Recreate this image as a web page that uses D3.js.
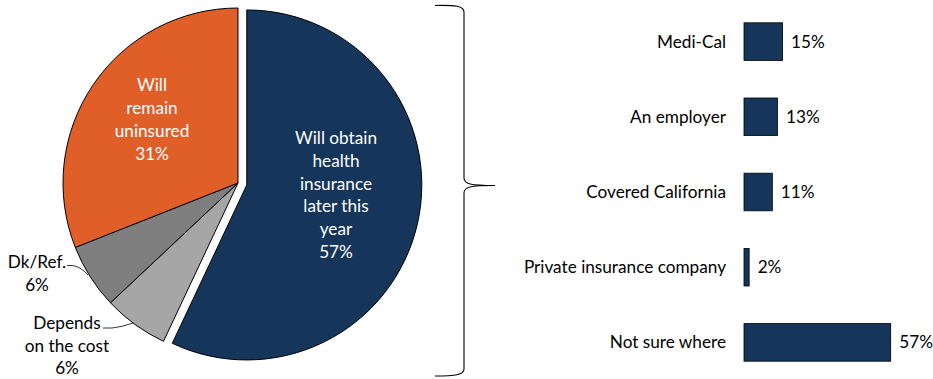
<!DOCTYPE html>
<html>
<head>
<meta charset="utf-8">
<script src="https://cdn.jsdelivr.net/npm/d3@7"></script>
<style>
  html, body { margin: 0; padding: 0; background: #fff; }
  svg { display: block; }
  text { font-family: Lato, "Open Sans", sans-serif; }
</style>
</head>
<body>
<svg id="chart" width="933" height="379"></svg>
<script>
// Intentions of the uninsured for the rest of the year
const pieLabels = ["Will obtain health insurance later this year", "Depends on the cost", "Dk/Ref.", "Will remain uninsured"];
const pieValues = [57, 6, 6, 31];
const pieColors = ["#15355b", "#a6a6a6", "#7f7f7f", "#e05e27"];

// Where those planning to get coverage expect to get it
const barCategories = ["Medi-Cal", "An employer", "Covered California", "Private insurance company", "Not sure where"];
const barValues = [15, 13, 11, 2, 57];

const svg = d3.select("#chart");
const FS = 17.2;

// ---- Pie ----
const cx = 238, cy = 183, R = 175;
const pie = d3.pie().sort(null).value(d => d)(pieValues);
const arc = d3.arc().innerRadius(0).outerRadius(R);
const explode = 9;

const pg = svg.append("g").attr("transform", `translate(${cx},${cy})`);
pg.selectAll("path.slice")
  .data(pie)
  .join("path")
  .attr("class", "slice")
  .attr("d", arc)
  .attr("fill", (d, i) => pieColors[i])
  .attr("stroke", "#000")
  .attr("stroke-width", 1)
  .attr("stroke-linejoin", "round")
  .attr("transform", (d, i) => {
    if (i !== 0) return null;
    const a = (d.startAngle + d.endAngle) / 2;
    return `translate(${explode * Math.sin(a)},${-explode * Math.cos(a)})`;
  });

function multiline(g, lines, x, y, lh, fill, size) {
  const t = g.append("text")
    .attr("text-anchor", "middle")
    .attr("fill", fill)
    .attr("font-size", size);
  lines.forEach((l, i) => {
    t.append("tspan").attr("x", x).attr("y", y + i * lh).attr("dy", "0.35em").text(l);
  });
}

multiline(svg, ["Will obtain", "health", "insurance", "later this", "year", pieValues[0] + "%"], 336, 138, 22.8, "#fff", FS);
multiline(svg, ["Will", "remain", "uninsured", pieValues[3] + "%"], 152, 85, 23, "#fff", FS);
multiline(svg, ["Dk/Ref.", pieValues[2] + "%"], 37, 262, 22.5, "#000", FS);
multiline(svg, ["Depends", "on the cost", pieValues[1] + "%"], 67, 323, 22.5, "#000", FS);

// leader lines for the small slices
svg.append("path")
  .attr("d", "M67,265.5 L72,265.5 Q80,266 88,275")
  .attr("fill", "none").attr("stroke", "#000").attr("stroke-width", 0.8);
svg.append("path")
  .attr("d", "M103,328 L112,328 Q122,327 133,323")
  .attr("fill", "none").attr("stroke", "#000").attr("stroke-width", 0.8);

// ---- Brace linking the pulled-out slice to the bars ----
svg.append("path")
  .attr("d", "M435,5.5 C455,5 464,6 464,12 L464,178 C464,184 470,185.5 495,185.5 C470,185.5 464,187 464,193 L464,369 C464,375 455,376 435,376")
  .attr("fill", "none").attr("stroke", "#000").attr("stroke-width", 1.1);

// ---- Bars ----
const x = d3.scaleLinear().domain([0, 57]).range([744, 890.7]);
const y = d3.scaleBand().domain(barCategories).range([4, 380]).paddingInner(0.5).paddingOuter(0.25);

const bg = svg.append("g");
bg.selectAll("rect")
  .data(barCategories)
  .join("rect")
  .attr("x", x(0))
  .attr("y", d => y(d))
  .attr("width", (d, i) => x(barValues[i]) - x(0))
  .attr("height", y.bandwidth())
  .attr("fill", "#15355b")
  .attr("stroke", "#000")
  .attr("stroke-width", 0.8);

bg.selectAll("text.cat")
  .data(barCategories)
  .join("text")
  .attr("class", "cat")
  .attr("x", 726)
  .attr("y", d => y(d) + y.bandwidth() / 2)
  .attr("dy", "0.35em")
  .attr("text-anchor", "end")
  .attr("font-size", FS)
  .attr("fill", "#000")
  .text(d => d);

bg.selectAll("text.val")
  .data(barCategories)
  .join("text")
  .attr("class", "val")
  .attr("x", (d, i) => x(barValues[i]) + 8.5)
  .attr("y", d => y(d) + y.bandwidth() / 2)
  .attr("dy", "0.35em")
  .attr("font-size", FS)
  .attr("fill", "#000")
  .text((d, i) => barValues[i] + "%");
</script>
</body>
</html>
